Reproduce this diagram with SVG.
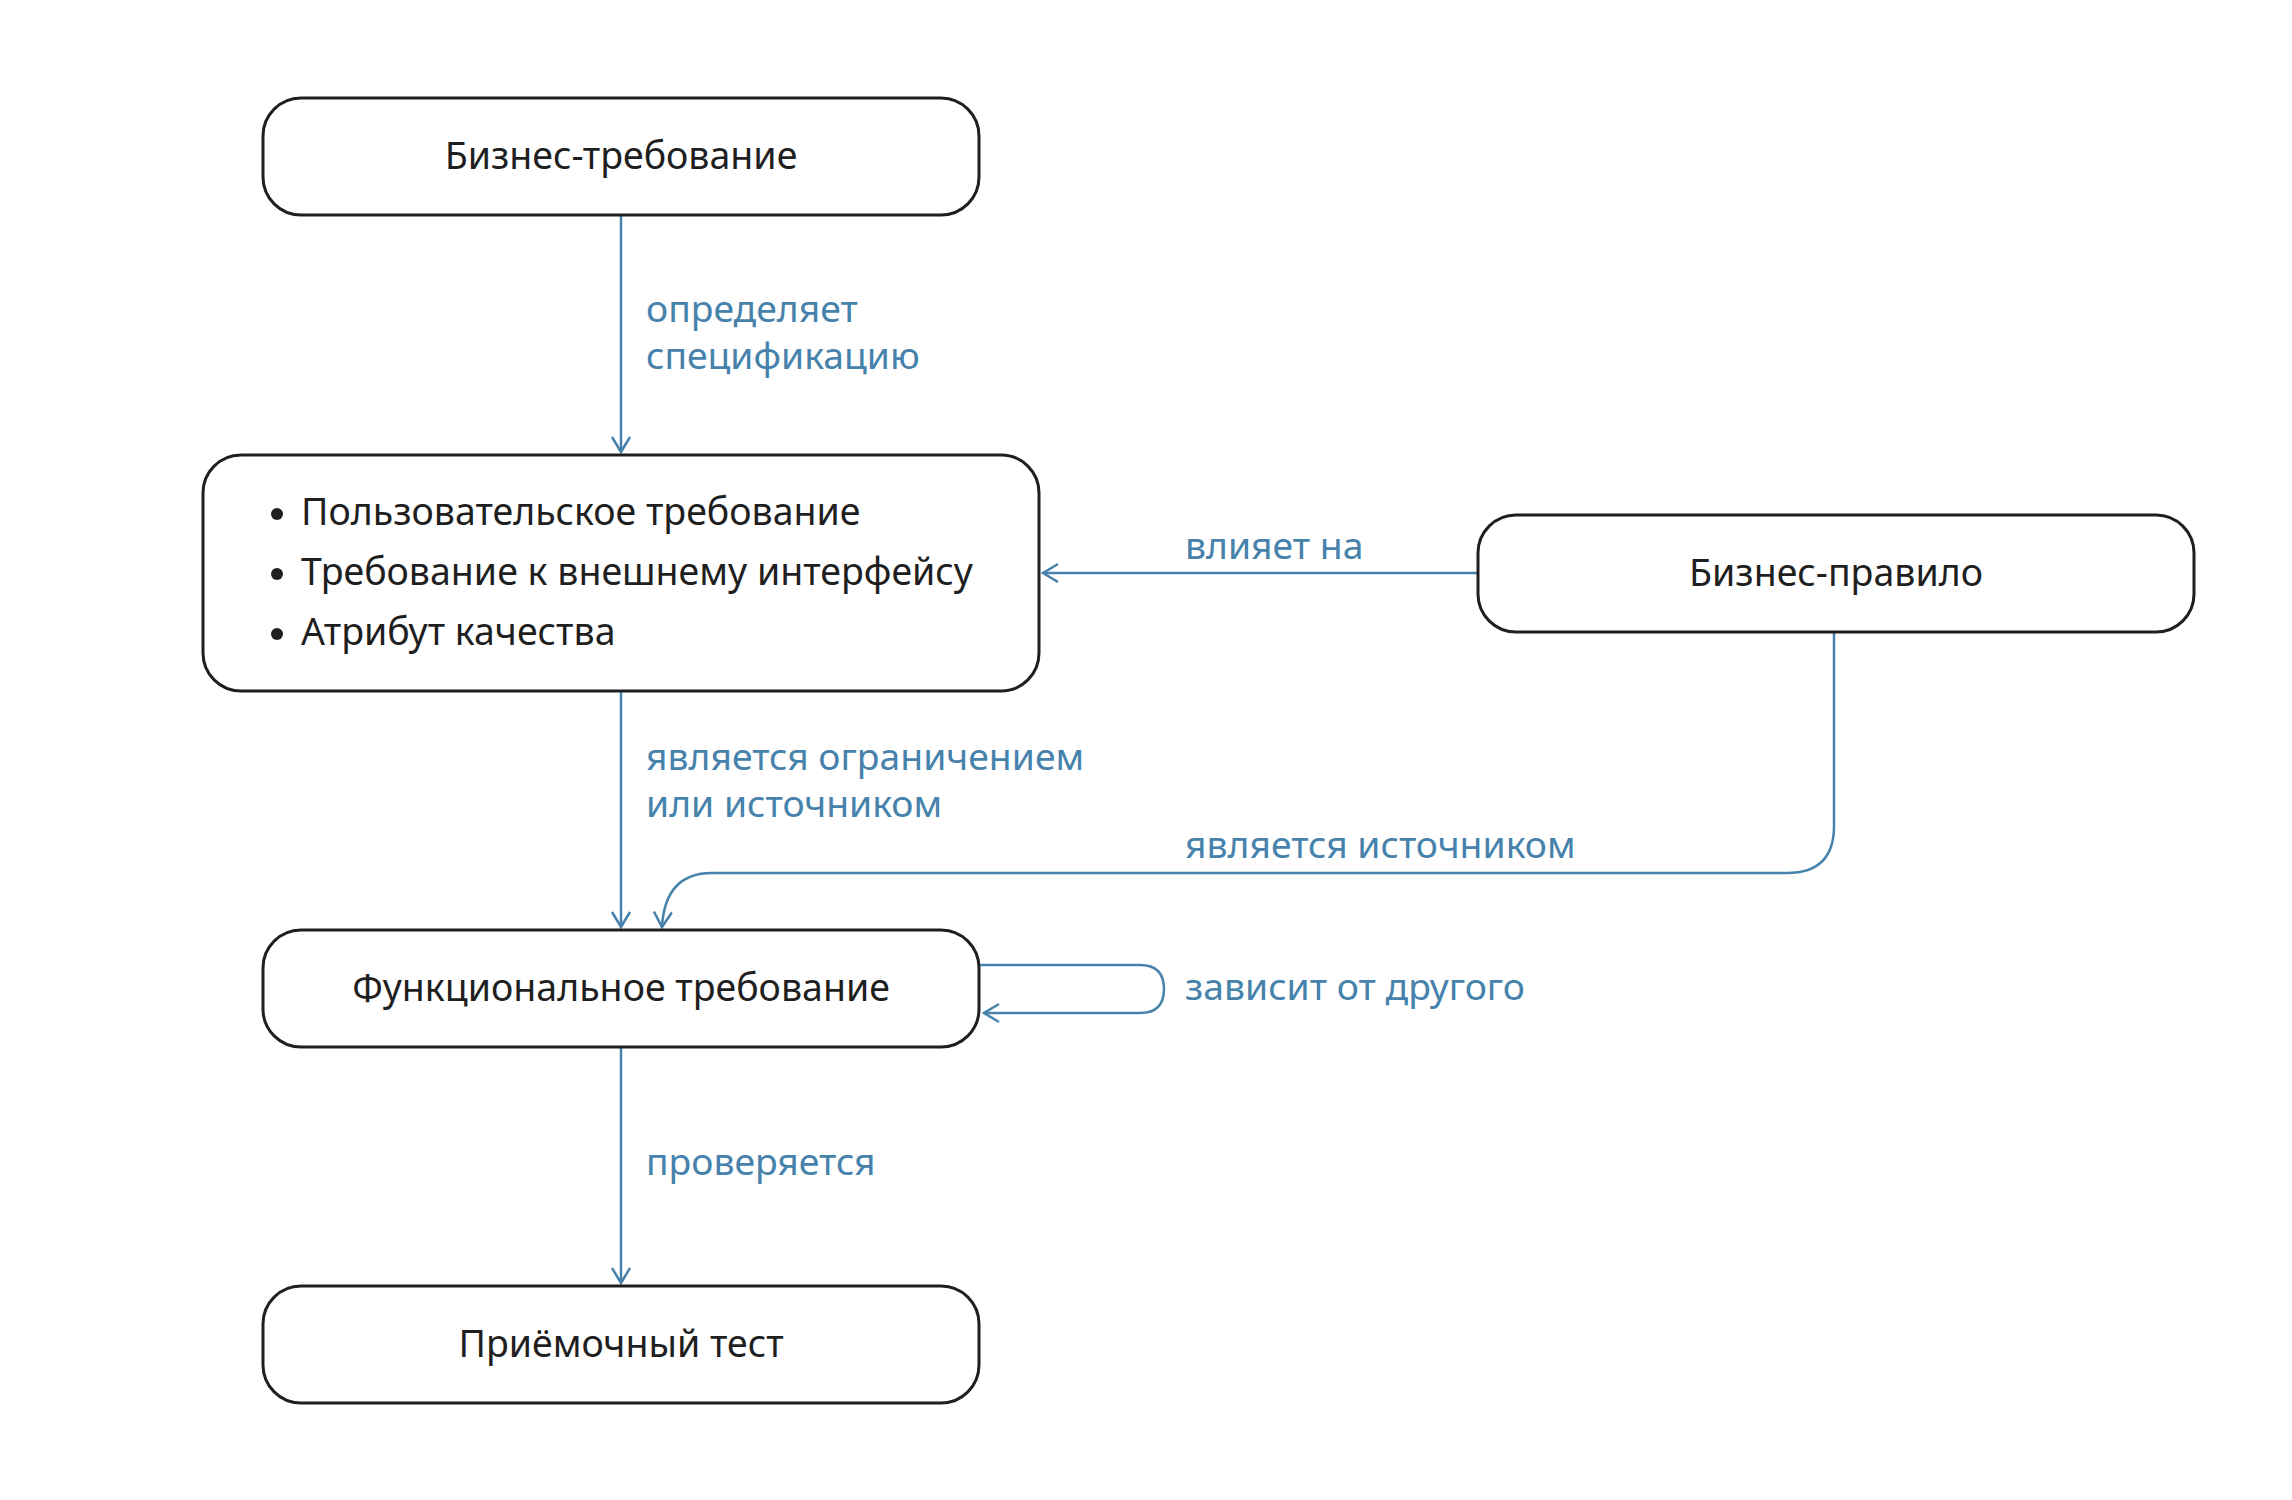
<svg xmlns="http://www.w3.org/2000/svg" width="2292" height="1500" viewBox="0 0 2292 1500">
<style>
.node{fill:#fff;stroke:#1f1f1f;stroke-width:3}
.t{font-family:"Noto Sans","Open Sans","DejaVu Sans",sans-serif;font-size:37.5px;fill:#1f1f1f}
.c{text-anchor:middle}
.lbl{font-family:"Noto Sans","Open Sans","DejaVu Sans",sans-serif;font-size:37.3px;fill:#4682ab}
.edge{fill:none;stroke:#4682ab;stroke-width:2.5}
</style>
<defs>
<marker id="ah" viewBox="0 0 22 22" refX="20" refY="11" markerWidth="22" markerHeight="22" markerUnits="userSpaceOnUse" orient="auto">
<path d="M5,2 L20,11 L5,20" fill="none" stroke="#4682ab" stroke-width="2.5"/>
</marker>
</defs>
<rect width="2292" height="1500" fill="#fff"/>
<g id="connectors">
<path class="edge" d="M621,215 L621,452" marker-end="url(#ah)"/>
<path class="edge" d="M1478,573 L1043,573" marker-end="url(#ah)"/>
<path class="edge" d="M621,691 L621,927" marker-end="url(#ah)"/>
<path class="edge" d="M1834,631 L1834,826 Q1834,873 1787,873 L712,873 Q665,873 662,927" marker-end="url(#ah)"/>
<path class="edge" d="M979,965 L1140,965 Q1164,965 1164,989 Q1164,1013 1140,1013 L984,1013" marker-end="url(#ah)"/>
<path class="edge" d="M621,1047 L621,1283" marker-end="url(#ah)"/>
<text class="lbl" x="646" y="322">определяет</text>
<text class="lbl" x="646" y="369">спецификацию</text>
<text class="lbl" x="1185" y="559">влияет на</text>
<text class="lbl" x="646" y="770">является ограничением</text>
<text class="lbl" x="646" y="817">или источником</text>
<text class="lbl" x="1185" y="858">является источником</text>
<text class="lbl" x="1185" y="1000">зависит от другого</text>
<text class="lbl" x="646" y="1175">проверяется</text>
</g>
<g id="n1">
<rect class="node" x="263" y="98" width="716" height="117" rx="38"/>
<text class="t c" x="621" y="169">Бизнес-требование</text>
</g>
<g id="n2">
<rect class="node" x="203" y="455" width="836" height="236" rx="38"/>
<circle cx="277" cy="514" r="6" fill="#1f1f1f"/>
<circle cx="277" cy="574" r="6" fill="#1f1f1f"/>
<circle cx="277" cy="634" r="6" fill="#1f1f1f"/>
<text class="t" x="301" y="525">Пользовательское требование</text>
<text class="t" x="301" y="585">Требование к внешнему интерфейсу</text>
<text class="t" x="301" y="645">Атрибут качества</text>
</g>
<g id="n3">
<rect class="node" x="1478" y="515" width="716" height="117" rx="38"/>
<text class="t c" x="1836" y="586">Бизнес-правило</text>
</g>
<g id="n4">
<rect class="node" x="263" y="930" width="716" height="117" rx="38"/>
<text class="t c" x="621" y="1001">Функциональное требование</text>
</g>
<g id="n5">
<rect class="node" x="263" y="1286" width="716" height="117" rx="38"/>
<text class="t c" x="621" y="1357">Приёмочный тест</text>
</g>
</svg>
